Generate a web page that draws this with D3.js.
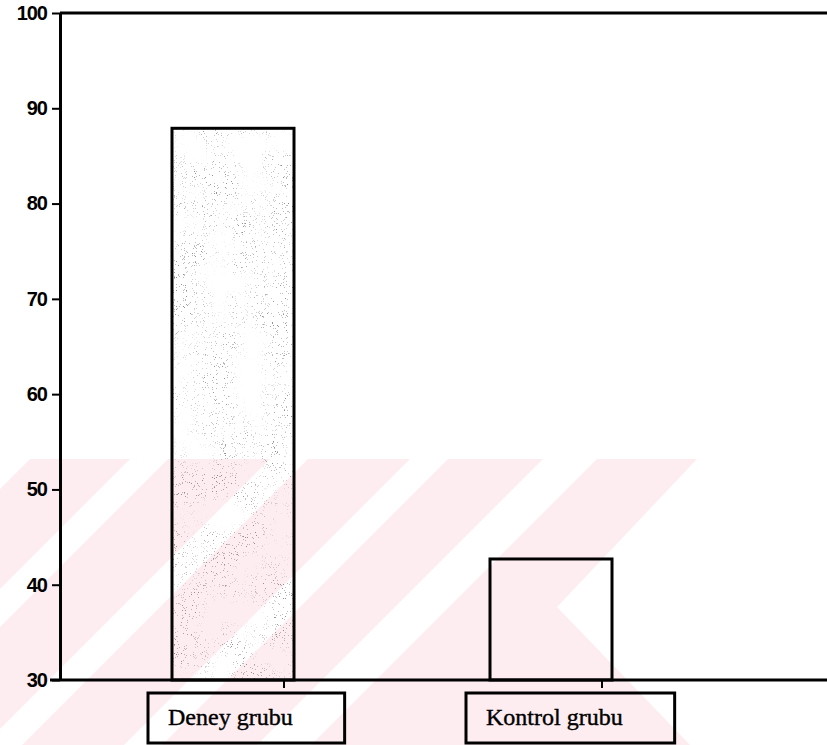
<!DOCTYPE html>
<html>
<head>
<meta charset="utf-8">
<script src="https://cdn.jsdelivr.net/npm/d3@7"></script>
<style>
  body { margin: 0; background: #fff; }
  svg { display: block; }
</style>
</head>
<body>
<script>
// ---- data ----
const categories = ['Deney grubu', 'Kontrol grubu'];
const values = [87.9, 42.7];
const yTicks = [30, 40, 50, 60, 70, 80, 90, 100];

// ---- layout ----
const outerW = 827,
    outerH = 745;

const axisX = 60,
    rightX = 827,
    topY = 13,
    baseY = 680;

const svg = d3.select('body').append('svg')
    .attr('width', outerW)
    .attr('height', outerH);

const defs = svg.append('defs');

// speckled, clumpy fill like the scanned grey screen
const f = defs.append('filter').attr('id', 'speckle')
    .attr('x', 0).attr('y', 0).attr('width', 1).attr('height', 1);
f.append('feTurbulence').attr('type', 'fractalNoise')
    .attr('baseFrequency', 0.9).attr('numOctaves', 2).attr('seed', 7).attr('result', 'n1');
f.append('feColorMatrix').attr('in', 'n1').attr('type', 'matrix')
    .attr('values', '0 0 0 0 0  0 0 0 0 0  0 0 0 0 0  1.6 0 0 0 -0.3').attr('result', 'a1');
f.append('feComponentTransfer').attr('in', 'a1').attr('result', 'dots')
    .append('feFuncA').attr('type', 'discrete').attr('tableValues', '0 0 0 0 0 0 0 0.5 0.8');
f.append('feTurbulence').attr('type', 'fractalNoise')
    .attr('baseFrequency', 0.03).attr('numOctaves', 2).attr('seed', 3).attr('result', 'n2');
f.append('feColorMatrix').attr('in', 'n2').attr('type', 'matrix')
    .attr('values', '0 0 0 0 0  0 0 0 0 0  0 0 0 0 0  3 0 0 0 -0.95').attr('result', 'mask');
f.append('feComposite').attr('in', 'dots').attr('in2', 'mask').attr('operator', 'in').attr('result', 'dm');
f.append('feFlood').attr('flood-color', '#777').attr('result', 'c');
f.append('feComposite').attr('in', 'c').attr('in2', 'dm').attr('operator', 'in');

// faint watermark in the lower part of the page
defs.append('clipPath').attr('id', 'wm')
    .append('polygon')
    .attr('points', '0,459 697,459 557,607 690,745 0,745');

const wm = svg.append('g').attr('clip-path', 'url(#wm)');
wm.append('rect')
    .attr('x', 0).attr('y', 459)
    .attr('width', 700).attr('height', 286)
    .attr('fill', '#fdedf0');

// white diagonal gaps (top intercepts at y=459)
const gaps = [[-10, 30], [130, 168], [270, 308], [410, 448], [543, 597]];
gaps.forEach(g => {
    const dy = 745 - 459;
    wm.append('polygon')
        .attr('points', [
            [g[0], 459], [g[1], 459], [g[1] - dy, 745], [g[0] - dy, 745]
        ].map(p => p.join(',')).join(' '))
        .attr('fill', '#fff');
});

// ---- scales ----
const y = d3.scaleLinear().domain([30, 100]).range([baseY, topY]);
const x = d3.scalePoint().domain(categories).range([233, 551]);
const barW = 122;

// ---- bars ----
const bars = svg.append('g');

bars.selectAll('.speck')
    .data(categories.slice(0, 1))
    .enter().append('rect')
    .attr('class', 'speck')
    .attr('x', d => x(d) - barW / 2)
    .attr('y', (d, i) => y(values[i]))
    .attr('width', barW)
    .attr('height', (d, i) => baseY - y(values[i]))
    .attr('fill', 'transparent')
    .attr('filter', 'url(#speckle)');

bars.selectAll('.bar')
    .data(categories)
    .enter().append('rect')
    .attr('class', 'bar')
    .attr('x', d => x(d) - barW / 2)
    .attr('y', (d, i) => y(values[i]))
    .attr('width', barW)
    .attr('height', (d, i) => baseY - y(values[i]))
    .attr('fill', 'none')
    .attr('stroke', '#000')
    .attr('stroke-width', 3);

// ---- axes ----
const yAxis = svg.append('g')
    .attr('transform', 'translate(' + axisX + ',0)')
    .call(d3.axisLeft(y)
        .tickValues(yTicks)
        .tickSize(8)
        .tickSizeOuter(0)
        .tickPadding(5));

yAxis.select('.domain').attr('stroke-width', 3);
yAxis.selectAll('.tick line').attr('stroke-width', 2);
yAxis.selectAll('.tick text')
    .style('font-family', '"Liberation Sans", Arial, sans-serif')
    .style('font-size', '20px')
    .style('font-weight', 'bold')
    .style('letter-spacing', '-1px')
    .attr('fill', '#000');

// top frame line and baseline
svg.append('line')
    .attr('x1', axisX).attr('x2', rightX)
    .attr('y1', topY).attr('y2', topY)
    .attr('stroke', '#000').attr('stroke-width', 3);

svg.append('line')
    .attr('x1', axisX - 10).attr('x2', rightX)
    .attr('y1', baseY).attr('y2', baseY)
    .attr('stroke', '#000').attr('stroke-width', 3);

// small category ticks under the baseline
svg.selectAll('.xtick')
    .data(categories)
    .enter().append('line')
    .attr('class', 'xtick')
    .attr('x1', d => x(d) + 51).attr('x2', d => x(d) + 51)
    .attr('y1', baseY).attr('y2', baseY + 8)
    .attr('stroke', '#000').attr('stroke-width', 2);

// ---- boxed category labels ----
const lab = svg.selectAll('.lab')
    .data(categories)
    .enter().append('g')
    .attr('class', 'lab');

lab.append('text')
    .attr('x', d => x(d) - 65)
    .attr('y', 725)
    .style('font-family', '"Liberation Serif", "Times New Roman", serif')
    .style('font-size', '24px')
    .attr('fill', '#000')
    .attr('stroke', '#000')
    .attr('stroke-width', 0.4)
    .text(d => d);

lab.each(function() {
    const t = d3.select(this).select('text');
    const bb = t.node().getBBox();
    d3.select(this).insert('rect', 'text')
        .attr('x', bb.x - 20)
        .attr('y', 693)
        .attr('width', bb.width + 72)
        .attr('height', 50)
        .attr('fill', 'none')
        .attr('stroke', '#000')
        .attr('stroke-width', 3);
});
</script>
</body>
</html>
